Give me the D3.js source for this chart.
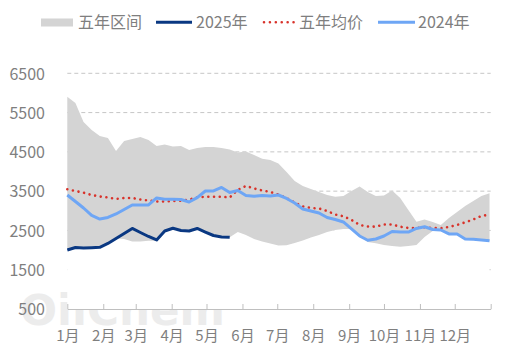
<!DOCTYPE html>
<html><head><meta charset="utf-8">
<script src="https://cdn.jsdelivr.net/npm/d3@7"></script>
<style>
html,body{margin:0;padding:0;background:#fff;}
svg{display:block;font-family:"Noto Sans CJK SC","Noto Sans",sans-serif;}
</style>
</head><body>
<svg id="c" width="506" height="357"></svg>
<script>
const monthLabels = ["1月","2月","3月","4月","5月","6月","7月","8月","9月","10月","11月","12月"];
const yTicks = [500,1500,2500,3500,4500,5500,6500];
const legendLabels = ["五年区间","2025年","五年均价","2024年"];

// weekly values, week 0 = start of January
const rangeMax = [5905,5745,5261,5057,4905,4854,4523,4778,4828,4879,4803,4650,4688,4637,4650,4548,4599,4625,4625,4599,4561,4485,4510,4421,4327,4294,4204,3988,3759,3632,3555,3479,3402,3359,3377,3504,3619,3479,3377,3390,3517,3326,3021,2723,2779,2715,2639,2817,2970,3122,3250,3377,3446];
const rangeMin = [2002,2066,2053,2061,2071,2168,2295,2282,2219,2219,2240,2235,2486,2555,2499,2486,2550,2460,2371,2333,2325,2460,2384,2282,2219,2168,2117,2122,2180,2244,2320,2384,2460,2511,2537,2537,2359,2206,2173,2130,2104,2086,2104,2130,2333,2486,2511,2410,2410,2282,2275,2257,2239];
const avg5 = [3548,3504,3461,3402,3364,3339,3301,3326,3326,3288,3262,3237,3237,3250,3257,3288,3339,3359,3359,3359,3339,3530,3632,3568,3517,3479,3415,3326,3211,3110,3072,3059,2995,2906,2861,2766,2639,2601,2595,2651,2651,2595,2562,2562,2580,2562,2555,2588,2639,2707,2779,2868,2900];
const y2024 = [3402,3237,3071,2881,2791,2830,2919,3033,3148,3148,3148,3326,3293,3293,3288,3224,3334,3504,3504,3593,3466,3517,3390,3369,3390,3377,3402,3313,3199,3046,2995,2944,2830,2779,2715,2537,2359,2249,2282,2359,2473,2460,2460,2550,2593,2524,2511,2410,2410,2282,2275,2257,2239];
const y2025 = [2002,2066,2053,2061,2071,2168,2295,2422,2550,2448,2346,2257,2486,2555,2499,2486,2550,2460,2371,2333,2325];

const colBand = "#d4d4d4", col2025 = "#0a3882", colAvg = "#d8322a", col2024 = "#6ea6f5", colText = "#7f7f7f";

const svg = d3.select("#c");
const start = new Date(2025,0,1), end = new Date(2026,0,1);
const x = d3.scaleTime().domain([start,end]).range([67.3,490.7]);
const y = d3.scaleLinear().domain([500,6500]).range([309,73.3]);
const dateAt = i => d3.timeDay.offset(start, 7*i);

// watermark
svg.append("text").attr("x",20).attr("y",325).attr("font-family","DejaVu Sans")
  .attr("font-weight","bold").attr("font-size",42).attr("fill","#ececec")
  .attr("textLength",205).attr("lengthAdjust","spacingAndGlyphs").text("OilChem");

// grid
svg.append("g").selectAll("line").data(yTicks.filter(d=>d>500)).join("line")
  .attr("x1",67.3).attr("x2",490.7).attr("y1",d=>y(d)).attr("y2",d=>y(d))
  .attr("stroke","#c6c6c6").attr("stroke-width",1).attr("stroke-dasharray","4 3");

const idx = d3.range(rangeMax.length);
// white base below range (stacked area)
svg.append("path").datum(idx)
  .attr("d", d3.area().x(i=>x(dateAt(i))).y0(y(500)).y1(i=>y(rangeMin[i])))
  .attr("fill","#fff");
svg.append("path").datum(idx)
  .attr("d", d3.area().x(i=>x(dateAt(i))).y0(i=>y(rangeMin[i])).y1(i=>y(rangeMax[i])))
  .attr("fill",colBand);

const line = arr => d3.line().x((d,i)=>x(dateAt(i))).y(d=>y(d))(arr);
svg.append("path").attr("d",line(avg5)).attr("fill","none").attr("stroke",colAvg)
  .attr("stroke-width",2.6).attr("stroke-linecap","round").attr("stroke-dasharray","0.01 5.7");
svg.append("path").attr("d",line(y2024)).attr("fill","none").attr("stroke",col2024)
  .attr("stroke-width",3).attr("stroke-linejoin","round");
svg.append("path").attr("d",line(y2025)).attr("fill","none").attr("stroke",col2025)
  .attr("stroke-width",3).attr("stroke-linejoin","round");

// x axis
const xa = svg.append("g").attr("transform","translate(0,309)")
  .call(d3.axisBottom(x).tickValues(d3.timeMonth.range(start, d3.timeDay.offset(end,1)))
    .tickSize(-5).tickSizeOuter(0).tickFormat((d,i)=>monthLabels[i]||""));
xa.select(".domain").attr("stroke","#bfbfbf");
xa.selectAll(".tick line").attr("stroke","#bfbfbf");
xa.selectAll("text").attr("y",31.5).attr("dy",null).attr("fill",colText)
  .attr("font-size",15).attr("font-family","'Noto Sans CJK SC',sans-serif");

// y axis labels
const ya = svg.append("g").attr("transform","translate(67.3,0)")
  .call(d3.axisLeft(y).tickValues(yTicks).tickSize(0).tickPadding(22.3).tickFormat(d3.format("d")));
ya.select(".domain").remove();
ya.selectAll("text").attr("dy",null).attr("y",5.7).attr("fill",colText)
  .attr("font-size",16).attr("font-family","'Noto Sans CJK SC',sans-serif");

// legend
const lg = svg.append("g").attr("font-size",16).attr("fill",colText);
lg.append("rect").attr("x",41).attr("y",18.5).attr("width",32).attr("height",8).attr("fill",colBand);
lg.append("text").attr("x",78).attr("y",28).text(legendLabels[0]);
lg.append("line").attr("x1",156).attr("x2",192).attr("y1",22.3).attr("y2",22.3).attr("stroke",col2025).attr("stroke-width",3);
lg.append("text").attr("x",196).attr("y",28).text(legendLabels[1]);
lg.append("line").attr("x1",264).attr("x2",295).attr("y1",22.3).attr("y2",22.3).attr("stroke",colAvg)
  .attr("stroke-width",2.6).attr("stroke-linecap","round").attr("stroke-dasharray","0.01 5.9");
lg.append("text").attr("x",299).attr("y",28).text(legendLabels[2]);
lg.append("line").attr("x1",378).attr("x2",415).attr("y1",22.3).attr("y2",22.3).attr("stroke",col2024).attr("stroke-width",3);
lg.append("text").attr("x",418).attr("y",28).text(legendLabels[3]);
</script>
</body></html>
